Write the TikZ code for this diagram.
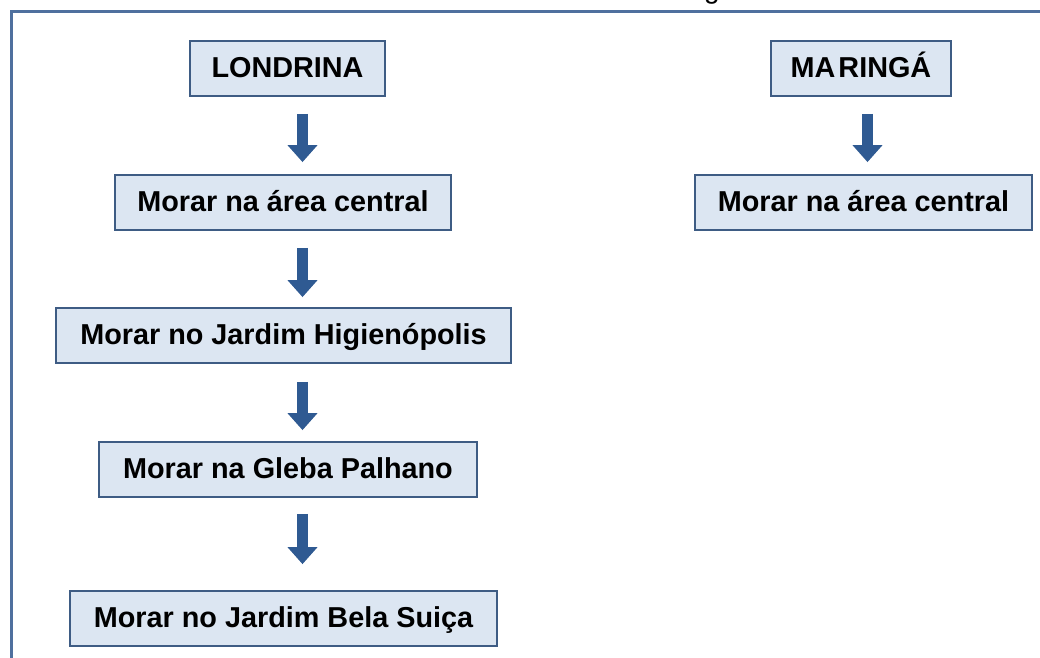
\documentclass[tikz,border=0pt]{standalone}
\usepackage{fontspec}
\setmainfont{Liberation Sans}
\usetikzlibrary{arrows.meta,calc}
\definecolor{frameblue}{RGB}{79,112,158}
\definecolor{boxfill}{RGB}{220,230,242}
\definecolor{boxline}{RGB}{62,92,132}
\definecolor{arrowblue}{RGB}{47,90,146}
\tikzset{
  stepbox/.style={draw=boxline, line width=1.8pt, fill=boxfill, inner sep=0pt,
    minimum height=55pt, text height=22pt, text depth=5pt,
    font=\fontsize{28.8}{34}\selectfont\bfseries, text=black},
  blockarrow/.style={draw=arrowblue, line width=10.5pt,
    -{Triangle[width=29pt,length=17pt]}},
}
\begin{document}
\begin{tikzpicture}[x=1pt,y=-1pt]
\useasboundingbox (0,0) rectangle (1040,657);
\clip (0,0) rectangle (1040,657);
\fill[white] (0,0) rectangle (1040,657);
% frame
\coordinate (fbl) at (11.5,670);
\coordinate (ftl) at (11.5,11.5);
\coordinate (ftr) at (1050,11.5);
\draw[frameblue, line width=3pt] (fbl) -- (ftl) -- (ftr);
% cut-off title letter
\node[anchor=base, inner sep=0pt, font=\fontsize{28}{34}\selectfont] (title) at (712,-2) {g};
% Londrina column
\node[stepbox, minimum width=195pt] (L0) at (287.5,68.5) {LONDRINA};
\node[stepbox, minimum width=336pt] (L1) at (283,202.5) {Morar na área central};
\node[stepbox, minimum width=455pt] (L2) at (283.5,335.5) {Morar no Jardim Higienópolis};
\node[stepbox, minimum width=378pt] (L3) at (288,469.5) {Morar na Gleba Palhano};
\node[stepbox, minimum width=427pt] (L4) at (283.5,618.5) {Morar no Jardim Bela Suiça};
% Maringá column
\node[stepbox, minimum width=180pt] (M0) at (861,68.5) {MA\kern3pt RINGÁ};
\node[stepbox, minimum width=337pt] (M1) at (863.5,202.5) {Morar na área central};
% arrow axes
\coordinate (ax) at (302.5,0);
\coordinate (mx) at (867.5,0);
\draw[blockarrow, shorten <=17pt, shorten >=12pt] (L0.south -| ax) -- (L1.north -| ax);
\draw[blockarrow, shorten <=17pt, shorten >=10pt] (L1.south -| ax) -- (L2.north -| ax);
\draw[blockarrow, shorten <=18pt, shorten >=11pt] (L2.south -| ax) -- (L3.north -| ax);
\draw[blockarrow, shorten <=16pt, shorten >=26pt] (L3.south -| ax) -- (L4.north -| ax);
\draw[blockarrow, shorten <=17pt, shorten >=12pt] (M0.south -| mx) -- (M1.north -| mx);
\end{tikzpicture}
\end{document}
